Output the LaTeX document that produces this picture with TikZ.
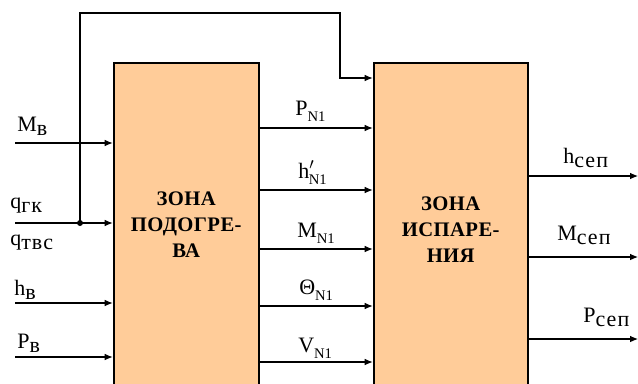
\documentclass[tikz,border=0pt]{standalone}
\usepackage{fontspec}
\setmainfont{Liberation Serif}
\usetikzlibrary{arrows.meta,positioning}
\definecolor{zonefill}{HTML}{FFCC99}
% subscripts as in the scheme: cyrillic lowered, index N1 small
\newcommand{\lowsub}[1]{\raisebox{-0.22em}{\addfontfeatures{LetterSpace=5}#1}}
\newcommand{\nsub}[1]{\raisebox{-0.3em}{\fontsize{11}{12}\selectfont #1}}
\tikzset{
  zone/.style={
    draw,
    line width=1.5pt,
    fill=zonefill,
    align=center,
    anchor=north west,
    inner sep=0pt,
    font=\fontsize{15.5}{19.5}\selectfont\bfseries\addfontfeatures{LetterSpace=2}
  },
  line/.style={
    -{Latex[length=6pt,width=5pt]},
    line width=0.8pt
  },
  lbl/.style={
    anchor=base west,
    inner sep=0pt,
    font=\fontsize{16.5}{18}\selectfont
  }
}

\begin{document}
\begin{tikzpicture}[x=0.75pt, y=-0.75pt]
  \clip (0,0) rectangle (638,383);
  \useasboundingbox (0,0) rectangle (638,383);
  \node[zone, minimum width=108.75pt, minimum height=243.2pt] (heat) at (112.7,61.7)
    {ЗОНА\\ПОДОГРЕ-\\ВА};
  \node[zone, minimum width=115.5pt, minimum height=250.7pt] (evap) at (372.7,61.7)
    {ЗОНА\\ИСПАРЕ-\\НИЯ};

  % inputs
  \coordinate (inM) at (15,143);
  \coordinate (inQ) at (15,223);
  \coordinate (inH) at (15,303);
  \coordinate (inP) at (15,357);
  \coordinate (split) at (80,223);
  \coordinate (top) at (340,13);
  \coordinate (fb) at (evap.west |- 0,78);
  \draw[line] (inM) -- (inM -| heat.west);
  \draw[line] (inQ) -- (inQ -| heat.west);
  \draw[line] (inH) -- (inH -| heat.west);
  \draw[line] (inP) -- (inP -| heat.west);
  \draw[line] (split) |- (top) |- (fb);
  \fill (split) circle[radius=3];

  \node[lbl] (lM) at (17,131) {M\lowsub{в}};
  \node[lbl] (lQ1) at (10,208) {q\lowsub{гк}};
  \node[lbl] (lQ2) at (10,245) {q\lowsub{твс}};
  \node[lbl] (lH) at (14,295) {h\lowsub{в}};
  \node[lbl] (lP) at (17,348) {P\lowsub{в}};

  % links between zones
  \coordinate (m1) at (heat.east |- 0,128);
  \coordinate (m2) at (heat.east |- 0,190);
  \coordinate (m3) at (heat.east |- 0,249);
  \coordinate (m4) at (heat.east |- 0,306);
  \coordinate (m5) at (heat.east |- 0,362);
  \draw[line] (m1) -- (m1 -| evap.west);
  \draw[line] (m2) -- (m2 -| evap.west);
  \draw[line] (m3) -- (m3 -| evap.west);
  \draw[line] (m4) -- (m4 -| evap.west);
  \draw[line] (m5) -- (m5 -| evap.west);

  \node[lbl] (lPn) at (295,115) {P\nsub{N1}};
  \node[lbl] (lHn) at (298,178) {h$'$\kern-0.25em\nsub{N1}};
  \node[lbl] (lMn) at (297,237) {M\nsub{N1}};
  \node[lbl] (lTn) at (299,294) {Θ\nsub{N1}};
  \node[lbl] (lVn) at (298,352) {V\nsub{N1}};

  % outputs
  \coordinate (o1) at (638,176);
  \coordinate (o2) at (638,257);
  \coordinate (o3) at (638,339);
  \draw[line] (o1 -| evap.east) -- (o1);
  \draw[line] (o2 -| evap.east) -- (o2);
  \draw[line] (o3 -| evap.east) -- (o3);

  \node[lbl] (lHs) at (563,163) {h\lowsub{сеп}};
  \node[lbl] (lMs) at (557,240) {M\lowsub{сеп}};
  \node[lbl] (lPs) at (583,322) {P\lowsub{сеп}};
\end{tikzpicture}
\end{document}
